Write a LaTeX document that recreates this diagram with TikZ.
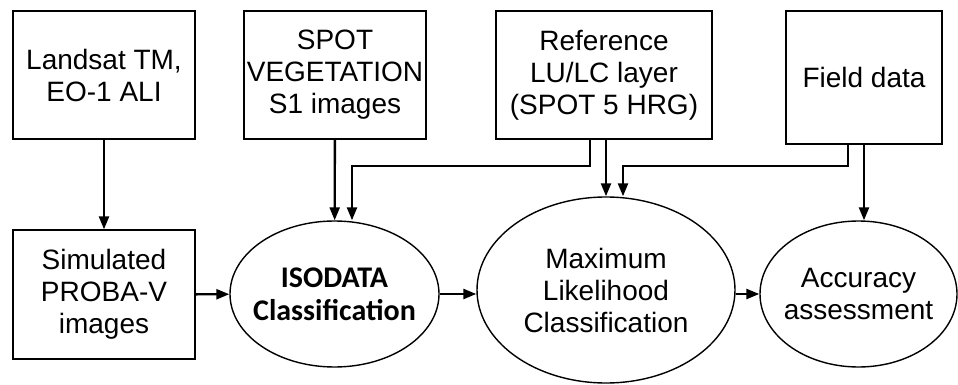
\documentclass[tikz,border=0pt]{standalone}
\usepackage{fontspec}
\setmainfont{Liberation Sans}
\newfontfamily\isofont{Carlito}
\usetikzlibrary{arrows.meta,shapes.geometric}

\begin{document}
\begin{tikzpicture}[x=1pt,y=-1pt,
    box/.style={draw, line width=1.4pt, inner sep=0pt, align=center,
        font=\fontsize{28}{32}\selectfont},
    oval/.style={ellipse, draw, line width=1.4pt, inner sep=-15pt, align=center,
        font=\fontsize{28}{32}\selectfont},
    arr/.style={-{Triangle[length=13pt,width=10pt]}, line width=2.4pt}]
    \useasboundingbox (0,0) rectangle (958,385);

    % top row
    \node[box, minimum width=182pt, minimum height=128pt] (landsat) at (104,75) {Landsat TM,\\EO-1 ALI};
    \node[box, minimum width=182pt, minimum height=128pt] (spot) at (335,75) {SPOT\\VEGETATION\\S1 images};
    \node[box, minimum width=216pt, minimum height=128pt] (ref) at (604,75) {Reference\\LU/LC layer\\(SPOT 5 HRG)};
    \node[box, minimum width=156pt, minimum height=133pt] (field) at (864,77.5) {Field data};

    % bottom row
    \node[box, minimum width=182pt, minimum height=129pt] (sim) at (104,294.5) {Simulated\\PROBA-V\\images};
    \node[oval, minimum width=209pt, minimum height=146pt,
        font=\isofont\bfseries\fontsize{30}{33}\selectfont] (iso) at (334.5,294) {ISODATA\\Classification};
    \node[oval, minimum width=258pt, minimum height=186pt] (ml) at (606,290) {Maximum\\Likelihood\\Classification};
    \node[oval, minimum width=197pt, minimum height=146pt] (acc) at (858.5,294) {Accuracy\\assessment};

    \draw[arr] (landsat) -- (sim);
    \draw[arr] (sim) -- (iso);
    \draw[arr] (iso.east) -- (iso.east -| ml.west);
    \draw[arr] (ml.east |- acc.west) -- (acc.west);

    \draw[arr] (spot) -- (iso);
    \draw[arr] ([xshift=-14pt]ref.south) -- ++(0,26) -| ([xshift=17.5pt]iso.north);
    \draw[arr] (ref.south -| ml.north) -- (ml.north);
    \draw[arr] ([xshift=-16pt]field.south) -- ++(0,21) -| ([xshift=17pt]ml.north);
    \draw[arr] (field.south) -- (field.south |- acc.north);
\end{tikzpicture}
\end{document}
